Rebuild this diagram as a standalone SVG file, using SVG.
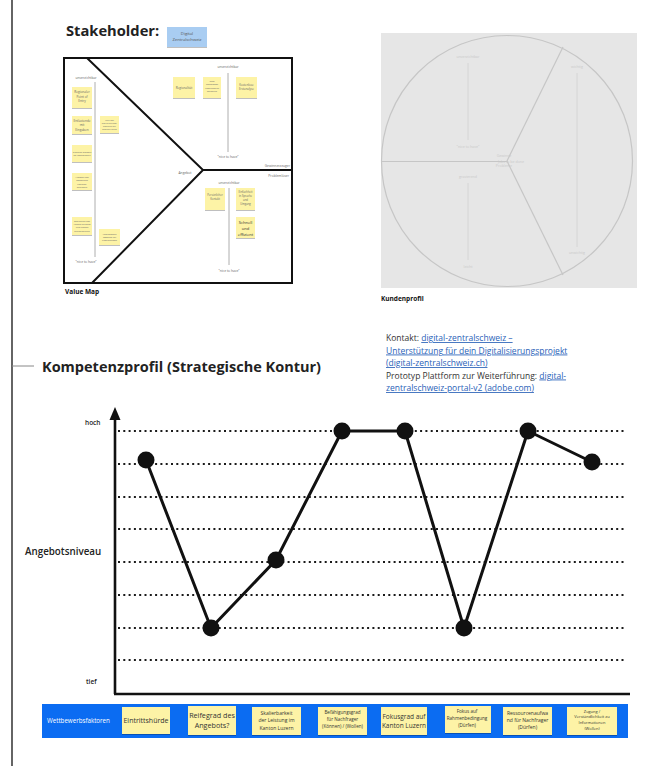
<svg xmlns="http://www.w3.org/2000/svg" width="645" height="766" viewBox="0 0 645 766">
  <style>
    text { font-family: "Open Sans", "Noto Sans", "DejaVu Sans", sans-serif; }
    .h1 { font-weight: 700; fill: #222; }
    .lbl { font-weight: 700; font-size: 6.5px; fill: #111; }
    .tiny { font-size: 3.3px; fill: #666; text-anchor: middle; }
    .end { text-anchor: end; }
    .start { text-anchor: start; }
    .faint { font-size: 3.6px; fill: #c9c9c9; text-anchor: middle; }
    .sticky { fill: #fdf3a6; filter: url(#shadow); }
    .vline { stroke: #999; stroke-width: 0.8; }
    .fline { stroke: #d0d0d0; stroke-width: 0.8; }
    .frame { fill: none; stroke: #111; stroke-width: 2; }
    .dots { stroke: #1a1a1a; stroke-width: 2.2; stroke-dasharray: 2 3.3; }
    .pt { fill: #111; }
    .curve { fill: none; stroke: #111; stroke-width: 3; stroke-linejoin: round; }
    .link { fill: #2a62b8; text-decoration: underline; }
    .plain { fill: #333; }
    .st { font-size: 7px; fill: #333; text-anchor: middle; }
    .sts { font-size: 5px; fill: #333; text-anchor: middle; }
  </style>
  <defs>
    <filter id="shadow" x="-20%" y="-20%" width="140%" height="150%">
      <feDropShadow dx="0" dy="1" stdDeviation="0.7" flood-color="#000" flood-opacity="0.25"/>
    </filter>
  </defs>

  <rect width="645" height="766" fill="#ffffff"/>
  <!-- page margin rule and heading tick -->
  <line x1="12" y1="0" x2="12" y2="766" stroke="#111" stroke-width="1.3"/>
  <line x1="12" y1="366" x2="34" y2="366" stroke="#888" stroke-width="1"/>

  <!-- header -->
  <g id="stakeholder-title">
    <text x="66" y="36" class="h1" font-size="14.7">Stakeholder:</text>
  </g>
  <g id="stakeholder-note">
    <rect x="167" y="27" width="40" height="20" fill="#a9cdf2" filter="url(#shadow)"/>
    <text x="187" y="35" font-size="4.2" fill="#555" text-anchor="middle">Digital</text>
    <text x="187" y="41" font-size="4.2" fill="#555" text-anchor="middle">Zentralschweiz</text>
  </g>

  <!-- value map -->
  <g id="value-map">
    <rect x="64" y="58" width="228" height="225" class="frame"/>
    <polyline points="87,58 203,170 92,283" class="frame"/>
    <line x1="203" y1="170" x2="292" y2="170" stroke="#111" stroke-width="2"/>

    <text x="86" y="79" class="tiny">unverzichtbar</text>
    <line x1="95" y1="82" x2="95" y2="257" class="vline"/>
    <text x="86" y="263" class="tiny">"nice to have"</text>

    <rect x="72" y="87" width="20" height="21" class="sticky"/>
    <text class="tiny" x="82" y="93" style="font-size:3.1px">Regionaler<tspan x="82" dy="4.6">Point of</tspan><tspan x="82" dy="4.6">Entry</tspan></text>
    <rect x="72" y="116" width="20" height="18" class="sticky"/>
    <text class="tiny" x="82" y="121.5" style="font-size:3.1px">Entlastende<tspan x="82" dy="4.6">mit</tspan><tspan x="82" dy="4.6">Eingaben</tspan></text>
    <rect x="72" y="145" width="20" height="17" class="sticky"/>
    <text class="tiny" x="82" y="152.5" style="font-size:2.3px">Rundum-Support<tspan x="82" dy="3.4">für Datenfragen</tspan></text>
    <rect x="72" y="173" width="20" height="17" class="sticky"/>
    <text class="tiny" x="82" y="178" style="font-size:2.3px">Auswahl von<tspan x="82" dy="3.4">passenden</tspan><tspan x="82" dy="3.4">Lösungs-</tspan><tspan x="82" dy="3.4">anbietern</tspan></text>
    <rect x="72" y="217" width="20" height="18" class="sticky"/>
    <text class="tiny" x="82" y="221.5" style="font-size:2.3px">Begleitung von<tspan x="82" dy="3.4">Anfang bis Ende</tspan><tspan x="82" dy="3.4">zum Thema</tspan><tspan x="82" dy="3.4">Digitalisierung</tspan></text>
    <rect x="100" y="116" width="19" height="17" class="sticky"/>
    <text class="tiny" x="109.5" y="120.5" style="font-size:2.1px">Liste von<tspan x="109.5" dy="3.1">Digitalisierungs-</tspan><tspan x="109.5" dy="3.1">projekten mit</tspan><tspan x="109.5" dy="3.1">Ergebnis-Druck</tspan></text>
    <rect x="99" y="229" width="21" height="16" class="sticky"/>
    <text class="tiny" x="109.5" y="234.5" style="font-size:2.3px">Anschaffbare<tspan x="109.5" dy="3.4">Software für</tspan><tspan x="109.5" dy="3.4">Unternehmen</tspan></text>

    <text x="228" y="68" class="tiny">unverzichtbar</text>
    <line x1="228" y1="73" x2="228" y2="152" class="vline"/>
    <text x="228" y="158" class="tiny">"nice to have"</text>
    <rect x="173" y="77" width="22" height="21" class="sticky"/>
    <text class="tiny" x="184" y="89" style="font-size:3px">Regionalität</text>
    <rect x="203" y="77" width="18" height="21" class="sticky"/>
    <text class="tiny" x="212" y="82" style="font-size:2.3px">Ideal<tspan x="212" dy="3.4">angepasste</tspan><tspan x="212" dy="3.4">unabhängige</tspan><tspan x="212" dy="3.4">Beratung</tspan></text>
    <rect x="236" y="77" width="21" height="21" class="sticky"/>
    <text class="tiny" x="246.5" y="86" style="font-size:2.8px">Kostenlose<tspan x="246.5" dy="4.1">Erstanalyse</tspan></text>

    <text x="290" y="167" class="tiny end">Gewinnerzeuger</text>
    <text x="289" y="177" class="tiny end">Problemlöser</text>
    <text x="185" y="174" class="tiny">Angebot</text>

    <text x="229" y="184" class="tiny">unverzichtbar</text>
    <line x1="229" y1="188" x2="229" y2="265" class="vline"/>
    <text x="229" y="272" class="tiny">"nice to have"</text>
    <rect x="205" y="188" width="20" height="22" class="sticky"/>
    <text class="tiny" x="215" y="196" style="font-size:2.7px">Persönlicher<tspan x="215" dy="4">Kontakt</tspan></text>
    <rect x="236" y="188" width="19" height="22" class="sticky"/>
    <text class="tiny" x="245.5" y="193" style="font-size:2.7px">Einfachheit<tspan x="245.5" dy="4">in Sprache</tspan><tspan x="245.5" dy="4">und</tspan><tspan x="245.5" dy="4">Umgang</tspan></text>
    <rect x="236" y="217" width="19" height="21" class="sticky"/>
    <text x="245.5" y="224" font-size="4.1" fill="#333" text-anchor="middle">Schnell<tspan x="245.5" dy="5.8">und</tspan><tspan x="245.5" dy="5.8">effizient</tspan></text>

    <text x="65" y="294" class="lbl">Value Map</text>
  </g>

  <!-- customer profile -->
  <g id="customer-profile">
    <rect x="381" y="33" width="256" height="255" fill="#e6e6e6"/>
    <circle cx="507" cy="161" r="125.5" fill="none" stroke="#c6c6c6" stroke-width="1.2"/>
    <line x1="507" y1="161" x2="563" y2="47" stroke="#c6c6c6" stroke-width="1.2"/>
    <line x1="507" y1="161" x2="563" y2="275" stroke="#c6c6c6" stroke-width="1.2"/>
    <line x1="382" y1="161.5" x2="507" y2="161.5" stroke="#c6c6c6" stroke-width="1.2"/>

    <text x="468" y="58" class="faint">unverzichtbar</text>
    <line x1="468" y1="63" x2="468" y2="140" class="fline"/>
    <text x="468" y="148" class="faint">"nice to have"</text>
    <text x="504" y="157" class="faint end">Gewinne</text>
    <text x="504" y="167" class="faint end">Probleme</text>
    <text x="511" y="163" class="faint start">Jobs to be done</text>
    <text x="468" y="178" class="faint">gravierend</text>
    <line x1="468" y1="183" x2="468" y2="260" class="fline"/>
    <text x="468" y="268" class="faint">leicht</text>
    <text x="577" y="68" class="faint">wichtig</text>
    <line x1="577" y1="73" x2="577" y2="247" class="fline"/>
    <text x="577" y="254" class="faint">unwichtig</text>

    <text x="381" y="301" class="lbl">Kundenprofil</text>
  </g>

  <!-- links -->
  <g id="links" font-size="8.5">
    <text x="386" y="341"><tspan class="plain">Kontakt: </tspan><tspan class="link">digital-zentralschweiz –</tspan></text>
    <text x="386" y="353.5" class="link">Unterstützung für dein Digitalisierungsprojekt</text>
    <text x="386" y="366" class="link">(digital-zentralschweiz.ch)</text>
    <text x="386" y="378.5"><tspan class="plain">Prototyp Plattform zur Weiterführung: </tspan><tspan class="link">digital-</tspan></text>
    <text x="386" y="391" class="link">zentralschweiz-portal-v2 (adobe.com)</text>
  </g>

  <g id="profile-title">
    <text x="42" y="372" class="h1" font-size="14.5">Kompetenzprofil (Strategische Kontur)</text>
  </g>

  <!-- chart -->
  <g id="chart-axes">
    <line x1="115" y1="694" x2="115" y2="418" stroke="#111" stroke-width="2.6"/>
    <polygon points="115,407 120.5,420 109.5,420" fill="#111"/>
    <line x1="114" y1="694" x2="630" y2="694" stroke="#111" stroke-width="2.6"/>
    <text x="85" y="425" font-size="6.5" font-weight="600" fill="#222">hoch</text>
    <text x="86" y="684" font-size="6.5" font-weight="600" fill="#222">tief</text>
    <text x="25" y="555" font-size="9.8" font-weight="600" fill="#222">Angebotsniveau</text>
  </g>
  <g id="chart-grid">
    <line x1="118" y1="431" x2="626" y2="431" class="dots"/>
    <line x1="118" y1="464" x2="626" y2="464" class="dots"/>
    <line x1="118" y1="497" x2="626" y2="497" class="dots"/>
    <line x1="118" y1="529" x2="626" y2="529" class="dots"/>
    <line x1="118" y1="562" x2="626" y2="562" class="dots"/>
    <line x1="118" y1="595" x2="626" y2="595" class="dots"/>
    <line x1="118" y1="628" x2="626" y2="628" class="dots"/>
    <line x1="118" y1="660" x2="626" y2="660" class="dots"/>
  </g>
  <g id="connectors">
    <polyline class="curve" points="146,460 211,628 276,560 342,431 405,431 464,628 528,431 592,462"/>
  </g>
  <g id="points">
    <circle id="p1" cx="146" cy="460" r="8.5" class="pt"/>
    <circle id="p2" cx="211" cy="628" r="8.5" class="pt"/>
    <circle id="p3" cx="276" cy="560" r="8.5" class="pt"/>
    <circle id="p4" cx="342" cy="431" r="8.5" class="pt"/>
    <circle id="p5" cx="405" cy="431" r="8.5" class="pt"/>
    <circle id="p6" cx="464" cy="628" r="8.5" class="pt"/>
    <circle id="p7" cx="528" cy="431" r="8.5" class="pt"/>
    <circle id="p8" cx="592" cy="462" r="8.5" class="pt"/>
  </g>

  <!-- competitive factors bar -->
  <g id="factors">
    <rect x="42" y="704" width="586" height="34" fill="#0b6cf2"/>
    <text x="47" y="723" font-size="6.2" fill="#ffffff">Wettbewerbsfaktoren</text>
  </g>
  <g id="f1">
    <rect x="122" y="707" width="48" height="27" class="sticky"/>
    <text x="146" y="723" class="st">Eintrittshürde</text>
  </g>
  <g id="f2">
    <rect x="188" y="706" width="48" height="29" class="sticky"/>
    <text x="212" y="718" class="st" style="font-size:7.2px">Reifegrad des<tspan x="212" dy="10">Angebots?</tspan></text>
  </g>
  <g id="f3">
    <rect x="252" y="707" width="49" height="28" class="sticky"/>
    <text x="276.5" y="714.5" class="sts">Skalierbarkeit<tspan x="276.5" dy="7.5">der Leistung im</tspan><tspan x="276.5" dy="7.5">Kanton Luzern</tspan></text>
  </g>
  <g id="f4">
    <rect x="318" y="707" width="49" height="28" class="sticky"/>
    <text x="342.5" y="714" class="sts" style="font-size:4.6px">Befähigungsgrad<tspan x="342.5" dy="6.8">für Nachfrager</tspan><tspan x="342.5" dy="6.8">(Können) / (Wollen)</tspan></text>
  </g>
  <g id="f5">
    <rect x="381" y="707" width="46" height="28" class="sticky"/>
    <text x="404" y="718.5" class="st" style="font-size:6.5px">Fokusgrad auf<tspan x="404" dy="9.5">Kanton Luzern</tspan></text>
  </g>
  <g id="f6">
    <rect x="445" y="706" width="46" height="27" class="sticky"/>
    <text x="467" y="713" class="sts" style="font-size:4.6px">Fokus auf<tspan x="467" dy="6.8">Rahmenbedingung</tspan><tspan x="467" dy="6.8">(Dürfen)</tspan></text>
  </g>
  <g id="f7">
    <rect x="503" y="707" width="49" height="28" class="sticky"/>
    <text x="527.5" y="715" class="sts">Ressourcenaufwa<tspan x="527.5" dy="7.2">nd für Nachfrager</tspan><tspan x="527.5" dy="7.2">(Dürfen)</tspan></text>
  </g>
  <g id="f8">
    <rect x="567" y="707" width="50" height="28" class="sticky"/>
    <text x="592" y="712.5" class="sts" style="font-size:4px">Zugang /<tspan x="592" dy="5.8">Verständlichkeit zu</tspan><tspan x="592" dy="5.8">Informationen</tspan><tspan x="592" dy="5.8">(Wollen)</tspan></text>
  </g>
</svg>
